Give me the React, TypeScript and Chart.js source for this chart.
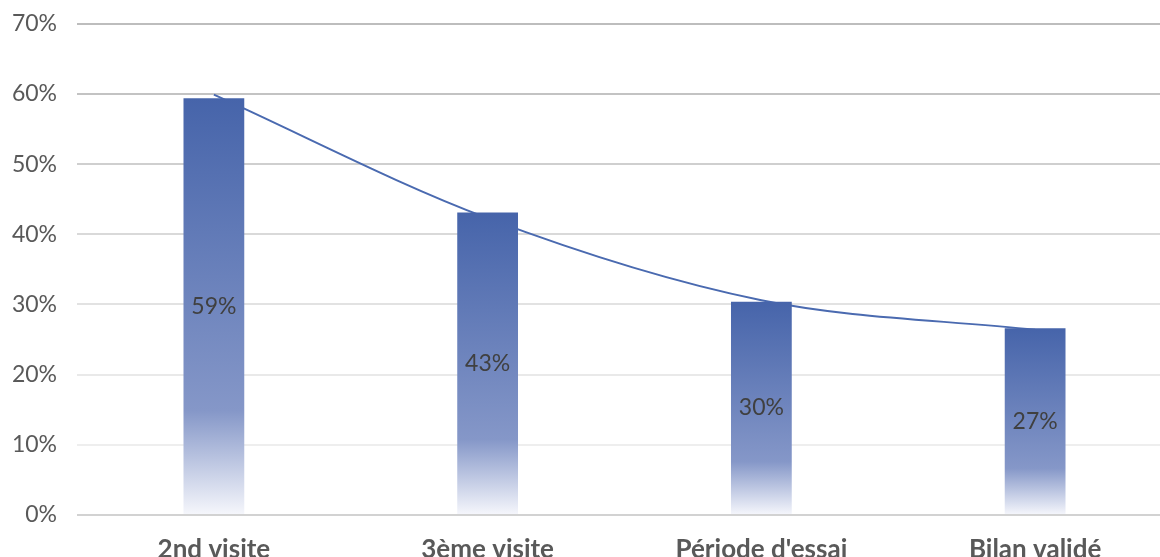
import React, { useEffect, useRef } from "react";
import { Chart, registerables } from "chart.js";

Chart.register(...registerables);

const categories = ["2nd visite", "3ème visite", "Période d'essai", "Bilan validé"];
const rates = [59.4, 43.1, 30.4, 26.6];
const trend = [59.9, 42.3, 30.6, 26.4];
const yTicks = [0, 10, 20, 30, 40, 50, 60, 70];

const FONT = "Lato, 'Noto Sans', sans-serif";

const gridShades: Record<number, string> = {
  70: "#bdbdbd",
  60: "#c3c3c3",
  50: "#cfcfcf",
  40: "#d9d9d9",
  30: "#e2e2e2",
  20: "#e9e9e9",
  10: "#eeeeee",
  0: "#d2d2d2",
};

// Writes each bar's rounded percentage at the middle of the bar
const barLabels = {
  id: "barLabels",
  afterDatasetsDraw(chart: any) {
    const meta = chart.getDatasetMeta(0);
    const ctx = chart.ctx;
    ctx.save();
    ctx.font = `23px ${FONT}`;
    ctx.fillStyle = "#404040";
    ctx.textAlign = "center";
    ctx.textBaseline = "middle";
    meta.data.forEach((bar: any, i: number) => {
      const v = chart.data.datasets[0].data[i] as number;
      ctx.fillText(Math.round(v) + "%", bar.x, (bar.y + bar.base) / 2);
    });
    ctx.restore();
  },
};

// Vertical fade for each bar: solid blue at the top, nearly white at the base
function barFill(c: any) {
  const ch = c.chart;
  const ys = ch.scales?.y;
  if (!ys || c.dataIndex === undefined) return "#4664aa";
  const top = ys.getPixelForValue(c.raw as number);
  const base = ys.getPixelForValue(0);
  if (!Number.isFinite(top) || !Number.isFinite(base) || top === base) return "#4664aa";
  const g = ch.ctx.createLinearGradient(0, top, 0, base);
  g.addColorStop(0, "#4664aa");
  g.addColorStop(0.75, "#8597c8");
  g.addColorStop(1, "#f6f7fc");
  return g;
}

export default function App() {
  const canvasRef = useRef<HTMLCanvasElement | null>(null);

  useEffect(() => {
    if (!canvasRef.current) return;
    const chart = new Chart(canvasRef.current, {
      type: "bar",
      data: {
        labels: categories,
        datasets: [
          {
            type: "bar",
            data: rates,
            order: 1,
            categoryPercentage: 1,
            barPercentage: 0.222,
            backgroundColor: barFill,
          },
          {
            type: "line",
            data: trend,
            order: 2,
            borderColor: "#4a6ab0",
            borderWidth: 2,
            pointRadius: 0,
            fill: false,
            cubicInterpolationMode: "monotone",
          },
        ],
      },
      options: {
        animation: false,
        responsive: true,
        maintainAspectRatio: false,
        layout: { padding: { top: 12, right: 0, left: 0, bottom: 0 } },
        plugins: {
          legend: { display: false },
          tooltip: { enabled: false },
        },
        scales: {
          x: {
            offset: true,
            grid: { display: false, drawTicks: false },
            border: { display: false },
            ticks: {
              color: "#595959",
              padding: 19,
              font: { family: FONT, size: 26, weight: "bold" },
            },
            afterFit: (s: any) => {
              s.height = 50;
            },
          },
          y: {
            min: 0,
            max: 70,
            afterBuildTicks: (s: any) => {
              s.ticks = yTicks.map((v) => ({ value: v }));
            },
            grid: {
              color: (c: any) => gridShades[c.tick?.value] ?? "#e0e0e0",
              lineWidth: 2,
              drawTicks: false,
            },
            border: { display: false },
            ticks: {
              color: "#595959",
              padding: 20,
              font: { family: FONT, size: 23 },
              callback: (v: any) => v + "%",
            },
            afterFit: (s: any) => {
              s.width = 77;
            },
          },
        },
      },
      plugins: [barLabels],
    } as any);
    chart.update();
    return () => chart.destroy();
  }, []);

  return (
    <div style={{ position: "fixed", inset: 0, overflow: "hidden", background: "#fff" }}>
      <div style={{ position: "absolute", left: 0, top: -10, width: 1173, height: 575 }}>
        <canvas ref={canvasRef} />
      </div>
    </div>
  );
}
